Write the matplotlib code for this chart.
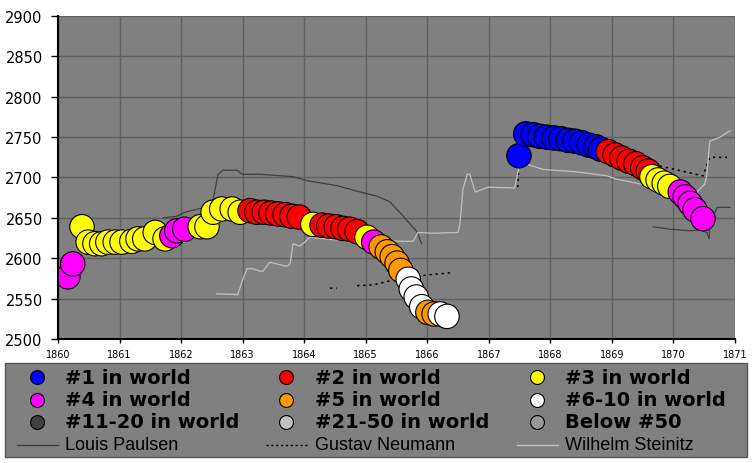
import numpy as np
import matplotlib
matplotlib.use("Agg")
from matplotlib import pyplot as plt
from matplotlib.patches import Rectangle
from matplotlib.lines import Line2D

# rating history (rank colour per point)
years = [1860.16, 1860.24, 1860.39, 1860.49, 1860.60, 1860.71, 1860.81, 1860.93, 1861.04, 1861.20,
         1861.30, 1861.41, 1861.58, 1861.74, 1861.85, 1861.93, 1862.06, 1862.31, 1862.42, 1862.52,
         1862.66, 1862.83, 1862.96, 1863.12, 1863.23, 1863.35, 1863.46, 1863.57, 1863.69, 1863.80,
         1863.92, 1864.14, 1864.29, 1864.40, 1864.52, 1864.63, 1864.74, 1864.86, 1865.02, 1865.13,
         1865.25, 1865.35, 1865.43, 1865.51, 1865.57, 1865.69, 1865.74, 1865.82, 1865.91, 1866.01,
         1866.11, 1866.21, 1866.32,
         1867.49, 1867.60, 1867.72, 1867.83, 1867.94, 1868.06, 1868.17, 1868.29, 1868.40, 1868.51,
         1868.63, 1868.74, 1868.82, 1868.94, 1869.05, 1869.16, 1869.28, 1869.39, 1869.50, 1869.59,
         1869.65, 1869.75, 1869.85, 1869.94, 1870.11, 1870.19, 1870.27, 1870.35, 1870.48]
ratings = [2577, 2593, 2639, 2620, 2618, 2618, 2620, 2620, 2620, 2621,
           2624, 2624, 2632, 2624, 2628, 2634, 2636, 2639, 2639, 2657,
           2661, 2661, 2657, 2659, 2657, 2657, 2656, 2655, 2654, 2652,
           2651, 2642, 2641, 2640, 2639, 2637, 2636, 2633, 2626, 2620,
           2614, 2608, 2602, 2594, 2585, 2574, 2562, 2552, 2540, 2533,
           2531, 2531, 2528,
           2727, 2754, 2753, 2751, 2750, 2749, 2748, 2746, 2745, 2743,
           2740, 2738, 2735, 2732, 2728, 2724, 2720, 2717, 2712, 2708,
           2701, 2697, 2693, 2689, 2682, 2676, 2668, 2660, 2649]
ranks = ([4] * 2 + [3] * 12 + [4] * 3 + [3] * 6 + [2] * 8 + [3] + [2] * 6 + [3] + [4]
         + [5] * 5 + [6] * 4 + [5] * 2 + [6] * 2
         + [1] * 13 + [2] * 7 + [3] * 4 + [4] * 5)

# rivals
paulsen_x = [1861.71, 1861.93, 1862.06, 1862.50, 1862.53, 1862.60, 1862.68, 1862.91, 1862.99, 1863.28,
             1863.82, 1864.05, 1864.53, 1864.86, 1865.18, 1865.39, 1865.61, 1865.83, 1865.91, np.nan,
             1869.67, 1869.94, 1870.27, 1870.43, 1870.54, 1870.58, 1870.59, 1870.71, 1870.92]
paulsen_y = [2650, 2652, 2657, 2665, 2676, 2704, 2709, 2709, 2704, 2704,
             2701, 2696, 2690, 2683, 2677, 2670, 2652, 2633, 2618, np.nan,
             2639, 2636, 2634, 2635, 2632, 2624, 2642, 2663, 2663]
neumann_x = [1864.42, 1864.53, np.nan, 1864.86, 1865.12, 1865.39, 1865.83, 1866.37, np.nan,
             1867.47, 1867.49, 1867.62, 1868.16, 1868.97, 1869.62, 1870.48, 1870.59, 1870.87]
neumann_y = [2563, 2563, np.nan, 2566, 2567, 2572, 2578, 2582, np.nan,
             2688, 2717, 2745, 2745, 2730, 2717, 2702, 2725, 2725]
steinitz_x = [1862.58, 1862.92, 1862.99, 1863.07, 1863.17, 1863.28, 1863.33, 1863.44, 1863.72, 1863.77,
              1863.82, 1863.93, 1864.01, 1864.09, 1864.47, 1865.02, 1865.56, 1865.77, 1865.85, 1866.09,
              1866.50, 1866.53, 1866.58, 1866.65, 1866.69, 1866.78, 1866.99, 1867.42, 1867.46, 1867.51,
              1867.72, 1867.88, 1868.43, 1868.92, 1869.08, 1869.46, 1869.94, 1870.38, 1870.51, 1870.54,
              1870.59, 1870.76, 1870.92]
steinitz_y = [2556, 2555, 2571, 2587, 2587, 2584, 2584, 2595, 2590, 2593,
              2618, 2615, 2620, 2626, 2623, 2623, 2621, 2621, 2632, 2631,
              2632, 2642, 2686, 2704, 2704, 2682, 2688, 2687, 2702, 2719,
              2714, 2710, 2707, 2702, 2698, 2692, 2686, 2682, 2692, 2702,
              2745, 2750, 2758]

rank_labels = ["#1 in world", "#2 in world", "#3 in world", "#4 in world", "#5 in world",
               "#6-10 in world", "#11-20 in world", "#21-50 in world", "Below #50"]
rank_colors = ["#0000ff", "#ff0000", "#ffff00", "#ff00ff", "#ff9900",
               "#ffffff", "#404040", "#c0c0c0", "#969696"]
line_labels = ["Louis Paulsen", "Gustav Neumann", "Wilhelm Steinitz"]

fig = plt.figure(figsize=(7.56, 4.64), dpi=100)
ax = fig.add_axes([58 / 756, 124 / 464, 677 / 756, 323 / 464])
ax.set_facecolor("#808080")

ax.plot(paulsen_x, paulsen_y, color="#404040", lw=0.9, zorder=2)
ax.plot(neumann_x, neumann_y, color="black", lw=1.1, ls=(0, (1.5, 2.5)), zorder=2)
ax.plot(steinitz_x, steinitz_y, color="#c0c0c0", lw=0.9, zorder=2)

cols = [rank_colors[r - 1] for r in ranks]
ax.scatter(years, ratings, s=310, c=cols, edgecolors="black", linewidths=0.8, zorder=3)

ax.set_xlim(1860, 1871)
ax.set_ylim(2500, 2900)
ax.set_xticks(range(1860, 1872))
ax.set_yticks(range(2500, 2901, 50))
ax.tick_params(axis="x", labelsize=7, length=3, width=1, pad=4)
ax.tick_params(axis="y", labelsize=10.5, length=5, width=1, pad=6)
ax.grid(True, color="#606060", lw=1)
ax.set_axisbelow(True)
for s in ["top", "right"]:
    ax.spines[s].set_visible(False)
for s in ["left", "bottom"]:
    ax.spines[s].set_linewidth(1.5)
    ax.spines[s].set_zorder(4)

# legend box drawn by hand
def fx(px):
    return px / 756

def fy(py):
    return 1 - py / 464

fig.patches.append(Rectangle((fx(5), fy(458)), fx(742), 94 / 464, transform=fig.transFigure,
                             facecolor="#808080", edgecolor="#555555", lw=1))
col_marker = [37, 286, 537]
col_text = [65, 315, 565]
row_y = [378, 401, 423, 446]
for i, (lab, c) in enumerate(zip(rank_labels, rank_colors)):
    row, col = i // 3, i % 3
    fig.add_artist(Line2D([fx(col_marker[col])], [fy(row_y[row])], marker="o", ms=10,
                          mfc=c, mec="black", mew=0.8, transform=fig.transFigure))
    fig.text(fx(col_text[col]), fy(row_y[row]), lab, fontsize=14, fontweight="bold",
             va="center", ha="left")
styles = [dict(color="#404040", ls="-"), dict(color="black", ls=(0, (1.5, 2))),
          dict(color="#c0c0c0", ls="-")]
for col, (lab, st) in enumerate(zip(line_labels, styles)):
    x0 = col_marker[col] - 20
    fig.add_artist(Line2D([fx(x0), fx(x0 + 41)], [fy(row_y[3])] * 2, lw=1,
                          transform=fig.transFigure, **st))
    fig.text(fx(col_text[col]), fy(row_y[3]), lab, fontsize=13, family="Liberation Sans",
             va="center", ha="left")

fig.savefig("out.png", dpi=100)
